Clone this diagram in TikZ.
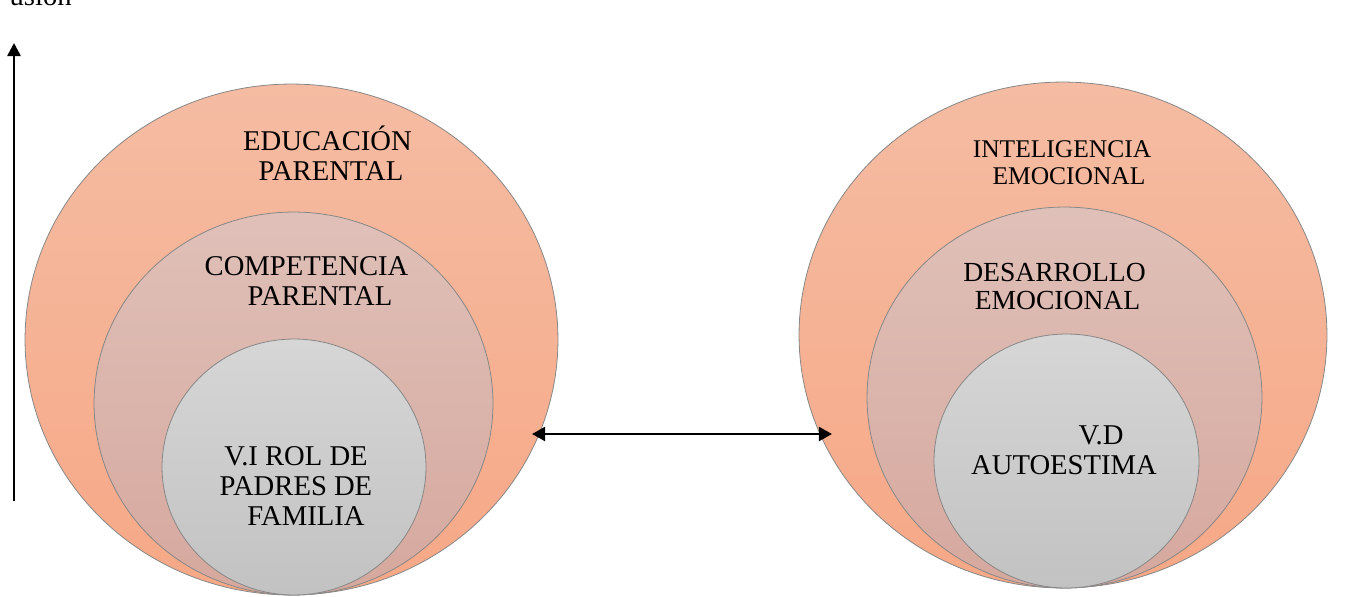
\documentclass[tikz,border=0pt]{standalone}
\usepackage{fontspec}
\setmainfont{Liberation Serif}
\usetikzlibrary{shapes.geometric,arrows.meta}
\definecolor{outtop}{RGB}{245,188,163}
\definecolor{outbot}{RGB}{246,168,134}
\definecolor{midtop}{RGB}{223,192,184}
\definecolor{midbot}{RGB}{214,168,158}
\definecolor{intop}{RGB}{214,214,214}
\definecolor{inbot}{RGB}{194,194,194}
\definecolor{rim}{RGB}{135,135,135}
\tikzset{
  ring/.style={ellipse, inner sep=0pt, draw=rim, line width=0.45pt},
  outerring/.style={ring, top color=outtop, bottom color=outbot},
  midring/.style={ring, top color=midtop, bottom color=midbot},
  innerring/.style={ring, top color=intop, bottom color=inbot},
  lbl/.style={align=center, inner sep=0pt, anchor=base},
  bigfont/.style={font=\fontsize{16.3pt}{17pt}\selectfont},
  arr/.style={line width=1.4pt, {Triangle[length=7.5pt,width=8pt]}-{Triangle[length=7.5pt,width=8pt]}},
  uparr/.style={line width=1.5pt, -{Triangle[length=7.5pt,width=7.5pt]}}
}
\begin{document}
\begin{tikzpicture}[x=0.02cm, y=-0.02cm]
\useasboundingbox (0,0) rectangle (1359,596);
% cut-off heading
\node[lbl, bigfont, anchor=base east] (head) at (72,5) {usión};
% left nest
\node[outerring, minimum width=10.66cm, minimum height=10.22cm] (lo) at (291.5,339.5) {};
\node[midring, minimum width=7.98cm, minimum height=7.66cm] (lm) at (293.5,403.5) {};
\node[innerring, minimum width=5.28cm, minimum height=5.12cm] (li) at (294,467) {};
% right nest
\node[outerring, minimum width=10.56cm, minimum height=10.12cm] (ro) at (1063,335) {};
\node[midring, minimum width=7.90cm, minimum height=7.62cm] (rm) at (1064.5,397.5) {};
\node[innerring, minimum width=5.30cm, minimum height=5.08cm] (ri) at (1066.5,461) {};
% labels (anchor = baseline of last line)
\node[lbl, bigfont] (t1) at (327.5,180) {EDUCACIÓN\\\hspace*{0.14cm}PARENTAL};
\node[lbl, bigfont] (t2) at (306.5,305) {COMPETENCIA\\\hspace*{0.54cm}PARENTAL};
\node[lbl, bigfont] (t3) at (296,525) {V.I ROL DE\\PADRES DE\\\hspace*{0.4cm}FAMILIA};
\node[lbl, font=\fontsize{14.5pt}{15.3pt}\selectfont] (t4) at (1062,184) {INTELIGENCIA\\\hspace*{0.28cm}EMOCIONAL};
\node[lbl, font=\fontsize{15.7pt}{15.5pt}\selectfont] (t5) at (1054.5,309) {DESARROLLO\\\hspace*{0.12cm}EMOCIONAL};
\node[lbl, bigfont] (t6) at (1064,474) {\hspace*{1.48cm}V.D\\AUTOESTIMA};
% arrows
\coordinate (ha) at (532,434);
\coordinate (hb) at (832,434);
\draw[arr] (ha) -- (hb);
\coordinate (va) at (14,501);
\coordinate (vb) at (14,43);
\draw[uparr] (va) -- (vb);
\end{tikzpicture}
\end{document}
